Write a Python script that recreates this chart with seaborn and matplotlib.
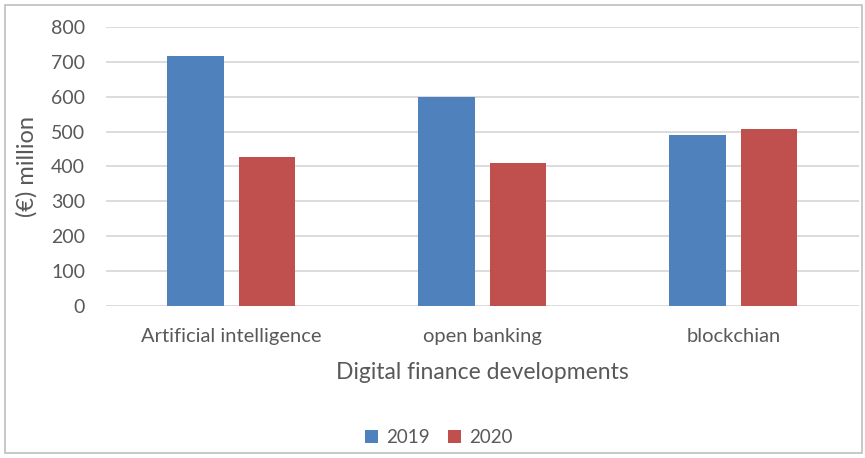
import matplotlib
matplotlib.use("Agg")
import matplotlib.pyplot as plt
import seaborn as sns
import pandas as pd
from matplotlib.patches import Rectangle, Patch

categories = ["Artificial intelligence", "open banking", "blockchian"]
values_2019 = [718, 598, 489]
values_2020 = [428, 411, 508]
series = ["2019", "2020"]
y_ticks = [0, 100, 200, 300, 400, 500, 600, 700, 800]

df = pd.DataFrame({
    "category": categories * 2,
    "year": [series[0]] * 3 + [series[1]] * 3,
    "value": values_2019 + values_2020,
})

sns.set_theme(style="white")
plt.rcParams["font.family"] = ["Lato", "DejaVu Sans"]
text_color = "#595959"
colors = {"2019": "#4F81BD", "2020": "#C0504D"}

fig = plt.figure(figsize=(8.65, 4.58), dpi=100)
ax = fig.add_axes([0.1225, 0.332, 0.8705, 0.609])

sns.barplot(data=df, x="category", y="value", hue="year", palette=colors,
            width=0.57, gap=0.21, ax=ax, legend=False, saturation=1,
            linewidth=0, zorder=3)

ax.set_ylim(0, 800)
ax.set_xlim(-0.5, 2.5)
ax.set_yticks(y_ticks)
ax.set_yticklabels([str(t) for t in y_ticks], fontsize=14, color=text_color)
ax.tick_params(axis="x", labelsize=14.5, labelcolor=text_color, length=0, pad=16)
ax.tick_params(axis="y", length=0, pad=15)
ax.yaxis.grid(True, color="#d9d9d9", linewidth=1.3, zorder=0)
ax.set_axisbelow(True)
for s in ax.spines.values():
    s.set_visible(False)

ax.set_ylabel("(€) million", fontsize=17, color=text_color, labelpad=10)
ax.set_xlabel("Digital finance developments", fontsize=16.5, color=text_color, labelpad=12)

handles = [Patch(facecolor=colors[s], edgecolor="none", label=s) for s in series]
fig.legend(handles=handles, loc="center", bbox_to_anchor=(0.507, 0.044), ncol=2,
           frameon=False, fontsize=13.5, labelcolor=text_color,
           handlelength=0.7, handleheight=0.7, handletextpad=0.4, columnspacing=1.0)

fig.patches.append(Rectangle((5 / 865, 5 / 458), 857 / 865, 448 / 458,
                             transform=fig.transFigure, fill=False,
                             edgecolor="#bfbfbf", linewidth=1.2))

fig.savefig("out.png", dpi=100, facecolor="white")
